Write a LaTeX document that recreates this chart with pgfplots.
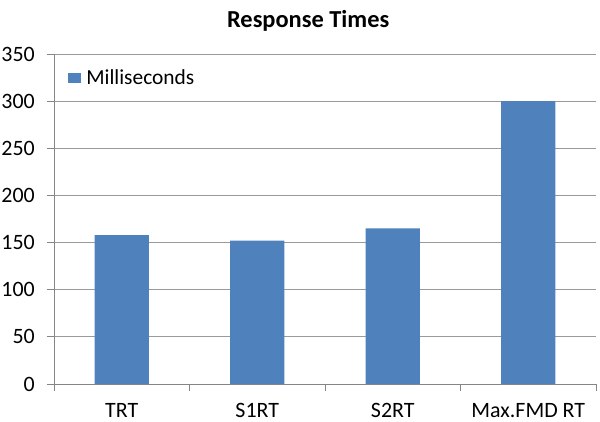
\documentclass[border=0pt]{standalone}
\usepackage{pgfplots}
\pgfplotsset{compat=1.18}
\usepackage{fontspec}
\setmainfont{Carlito}
\definecolor{barblue}{HTML}{4F81BD}
\definecolor{gridgray}{HTML}{9A9A9A}
\definecolor{axisgray}{HTML}{868686}
\begin{document}
\begin{tikzpicture}
\begin{axis}[
  scale only axis,
  width=542bp, height=330bp,
  ymin=0, ymax=350, ytick={0,50,...,350},
  xmin=-0.5, xmax=3.5,
  xtick={-0.5,0.5,1.5,2.5,3.5},
  x tick label as interval,
  xticklabels={TRT,S1RT,S2RT,Max.FMD RT},
  axis x line*=bottom, axis y line*=left,
  axis line style={axisgray, line width=0.8pt},
  tick align=outside, major tick length=7bp,
  tick style={axisgray, line width=0.8pt},
  ymajorgrids, grid style={gridgray, line width=0.8pt},
  /pgf/number format/assume math mode=true,
  tick label style={font=\fontsize{22}{24}\selectfont, inner sep=0pt},
  yticklabel style={xshift=-12bp},
  xticklabel style={yshift=-12bp},
  ybar, bar width=0.4,
  legend style={at={(axis description cs:0.026,0.928)}, anchor=west,
    draw=none, fill=none, inner sep=0pt,
    font=\fontsize{21.5}{24}\selectfont,
    nodes={inner sep=0pt}},
  legend image code/.code={\fill[barblue] (0bp,-5bp) rectangle (13bp,5bp);},
  title={\bfseries Response Times},
  title style={font=\fontsize{24.5}{28}\selectfont,
    at={(axis description cs:0.469,1)}, anchor=south, yshift=13bp},
]
\addplot[fill=barblue, draw=none] coordinates {(0,158) (1,152) (2,165) (3,300)};
\addlegendentry{\hspace{5bp}Milliseconds}
\end{axis}
\pgfresetboundingbox
\path ([xshift=-54bp,yshift=-38bp]current axis.south west)
  rectangle ([xshift=4bp,yshift=54bp]current axis.north east);
\end{tikzpicture}
\end{document}
